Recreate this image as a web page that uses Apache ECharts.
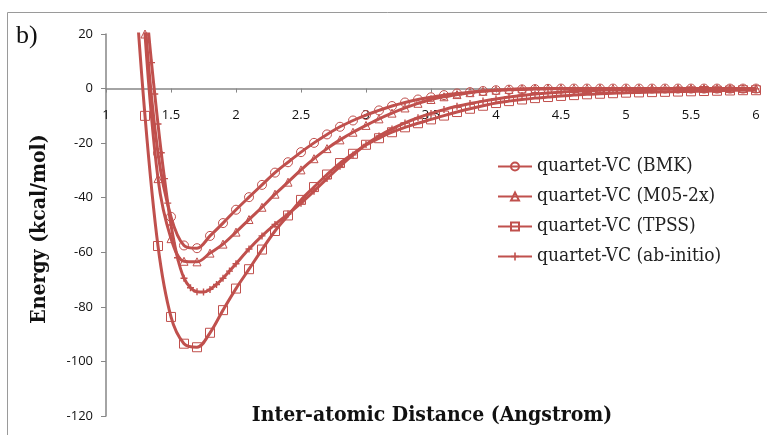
<!DOCTYPE html>
<html><head><meta charset="utf-8">
<script src="https://cdn.jsdelivr.net/npm/echarts@6/dist/echarts.min.js"></script>
<style>html,body{margin:0;padding:0;background:#fff}#c{width:767px;height:435px}</style>
</head><body><div id="c"></div>
<script>
// Inter-atomic distance (Angstrom), 0.1 step grid used by BMK, M05-2x, TPSS
const distance = [1.2,1.3,1.4,1.5,1.6,1.7,1.8,1.9,2.0,2.1,2.2,2.3,2.4,2.5,2.6,2.7,2.8,2.9,3.0,3.1,3.2,3.3,3.4,3.5,3.6,3.7,3.8,3.9,4.0,4.1,4.2,4.3,4.4,4.5,4.6,4.7,4.8,4.9,5.0,5.1,5.2,5.3,5.4,5.5,5.6,5.7,5.8,5.9,6.0];
const bmk = [110,25,-23.7,-47,-57.5,-58.5,-54,-49.3,-44.4,-39.8,-35.3,-30.8,-27,-23.3,-19.9,-16.8,-14,-11.7,-9.7,-8.0,-6.4,-5.1,-4.0,-3.2,-2.4,-1.8,-1.3,-0.9,-0.6,-0.4,-0.3,-0.2,-0.1,0,0,0,0,0,0,0,0,0,0,0,0,0,0,0,0];
const m05 = [105,20,-33,-55,-63.3,-63.5,-60.3,-57,-52.6,-48,-43.5,-38.7,-34.3,-29.8,-25.7,-22,-18.8,-16,-13.5,-11.1,-9.0,-7.1,-5.4,-4.0,-3.0,-2.2,-1.5,-1.0,-0.6,-0.3,-0.1,0,0,0,0,0,0,0,0,0,0,0,0,0,0,0,0,0,0];
const tpss = [55,-10,-57.7,-83.7,-93.5,-94.8,-89.5,-81.2,-73.3,-66.2,-59,-52.2,-46.5,-40.8,-36.1,-31.5,-27.3,-23.9,-20.6,-18.2,-16.0,-14.2,-12.7,-11.3,-9.9,-8.6,-7.4,-6.3,-5.3,-4.6,-4.0,-3.5,-3.1,-2.7,-2.4,-2.1,-1.9,-1.7,-1.5,-1.4,-1.3,-1.2,-1.1,-1.0,-0.9,-0.8,-0.7,-0.6,-0.6];
// ab-initio uses a finer grid near the well
const abDistance = [1.3,1.325,1.35,1.375,1.4,1.425,1.45,1.475,1.5,1.55,1.6,1.65,1.7,1.75,1.8,1.85,1.9,1.95,2.0,2.1,2.2,2.3,2.4,2.5,2.6,2.7,2.8,2.9,3.0,3.1,3.2,3.3,3.4,3.5,3.6,3.7,3.8,3.9,4.0,4.1,4.2,4.3,4.4,4.5,4.6,4.7,4.8,4.9,5.0,5.2,5.4,5.6,5.8,6.0];
const abInitio = [36,22,9.5,-2,-13,-23.5,-33,-42,-50,-62,-69.5,-73,-74.5,-74.6,-73.6,-71.8,-69.5,-66.9,-64.2,-58.8,-54,-49.8,-46,-42,-37.6,-33,-28.5,-24.3,-20.5,-17.4,-14.8,-12.6,-10.7,-9.1,-7.7,-6.5,-5.5,-4.6,-3.8,-3.1,-2.5,-2.0,-1.6,-1.3,-1.0,-0.8,-0.6,-0.5,-0.4,-0.3,-0.2,-0.2,-0.1,-0.1];
const seriesNames = ['quartet-VC (BMK)','quartet-VC (M05-2x)','quartet-VC (TPSS)','quartet-VC (ab-initio)'];
const xTicks = {min:1, max:6, step:0.5};
const yTicks = {min:-120, max:20, step:20};
const yTitle = 'Energy (kcal/mol)';
const xTitle = 'Inter-atomic Distance (Angstrom)';

const RED = '#C0504D';
const AXIS = '#868686';
const SERIF = '"DejaVu Serif Condensed", "Liberation Serif", serif';
const W = 767, H = 435;
const GRID = {left:106, right:11, top:34, bottom:19};
// place the x axis line where y = 0 falls inside the plot
const plotH = H - GRID.top - GRID.bottom;
const xAxisOffset = -((0 - yTicks.min) / (yTicks.max - yTicks.min)) * plotH;

const zip = (xs, ys) => xs.map((x, i) => [x, ys[i]]);
const hollow = {color:'rgba(255,255,255,0)', borderColor: RED, borderWidth: 1};
const base = {type:'line', smooth:0.35, showAllSymbol:true, clip:true,
  lineStyle:{color:RED, width:3}, emphasis:{disabled:true}};

const chart = echarts.init(document.getElementById('c'), null, {renderer:'canvas'});
chart.setOption({
  animation:false,
  backgroundColor:'#fff',
  grid:Object.assign({outerBoundsMode:'none', containLabel:false}, GRID),
  xAxis:{type:'value', min:xTicks.min, max:xTicks.max, interval:xTicks.step,
    position:'bottom', offset:xAxisOffset,
    axisLine:{onZero:false, lineStyle:{color:AXIS, width:1.5}},
    axisTick:{show:true, length:4, lineStyle:{color:AXIS}},
    splitLine:{show:false},
    axisLabel:{margin:20, fontFamily:'Open Sans', fontSize:13, color:'#111'}},
  yAxis:{type:'value', min:yTicks.min, max:yTicks.max, interval:yTicks.step,
    axisLine:{show:true, onZero:false, lineStyle:{color:AXIS, width:1.5}},
    axisTick:{show:true, length:5, lineStyle:{color:AXIS}},
    splitLine:{show:false},
    axisLabel:{margin:13, fontFamily:'Open Sans', fontSize:13, color:'#111'}},
  legend:{orient:'vertical', left:492, top:152, itemWidth:34, itemHeight:10, itemGap:11,
    textStyle:{fontFamily:SERIF, fontSize:19, color:'#222', lineHeight:18},
    data:seriesNames},
  graphic:[
    {type:'rect', silent:true, shape:{x:7.5, y:12.5, width:800, height:500},
      style:{fill:'none', stroke:'#9a9a9a', lineWidth:1}},
    {type:'text', left:16, top:23, silent:true,
      style:{text:'b)', font:'26px "Liberation Serif"', fill:'#111'}},
    {type:'text', x:40, y:229, rotation:Math.PI/2, silent:true,
      style:{text:yTitle, font:'bold 21px ' + SERIF, fill:'#111',
        textAlign:'center', textVerticalAlign:'middle'}},
    {type:'text', x:432, y:416, silent:true,
      style:{text:xTitle, font:'bold 21px ' + SERIF, fill:'#111',
        textAlign:'center', textVerticalAlign:'middle'}}
  ],
  series:[
    Object.assign({}, base, {name:seriesNames[0], data:zip(distance,bmk), symbol:'circle', symbolSize:9, itemStyle:hollow}),
    Object.assign({}, base, {name:seriesNames[1], data:zip(distance,m05), symbol:'triangle', symbolSize:8, itemStyle:hollow}),
    Object.assign({}, base, {name:seriesNames[2], data:zip(distance,tpss), symbol:'rect', symbolSize:9, itemStyle:hollow}),
    Object.assign({}, base, {name:seriesNames[3], data:zip(abDistance,abInitio),
      symbol:'path://M4,0H6V4H10V6H6V10H4V6H0V4H4Z', symbolSize:7, itemStyle:{color:RED}})
  ]
});
</script></body></html>
